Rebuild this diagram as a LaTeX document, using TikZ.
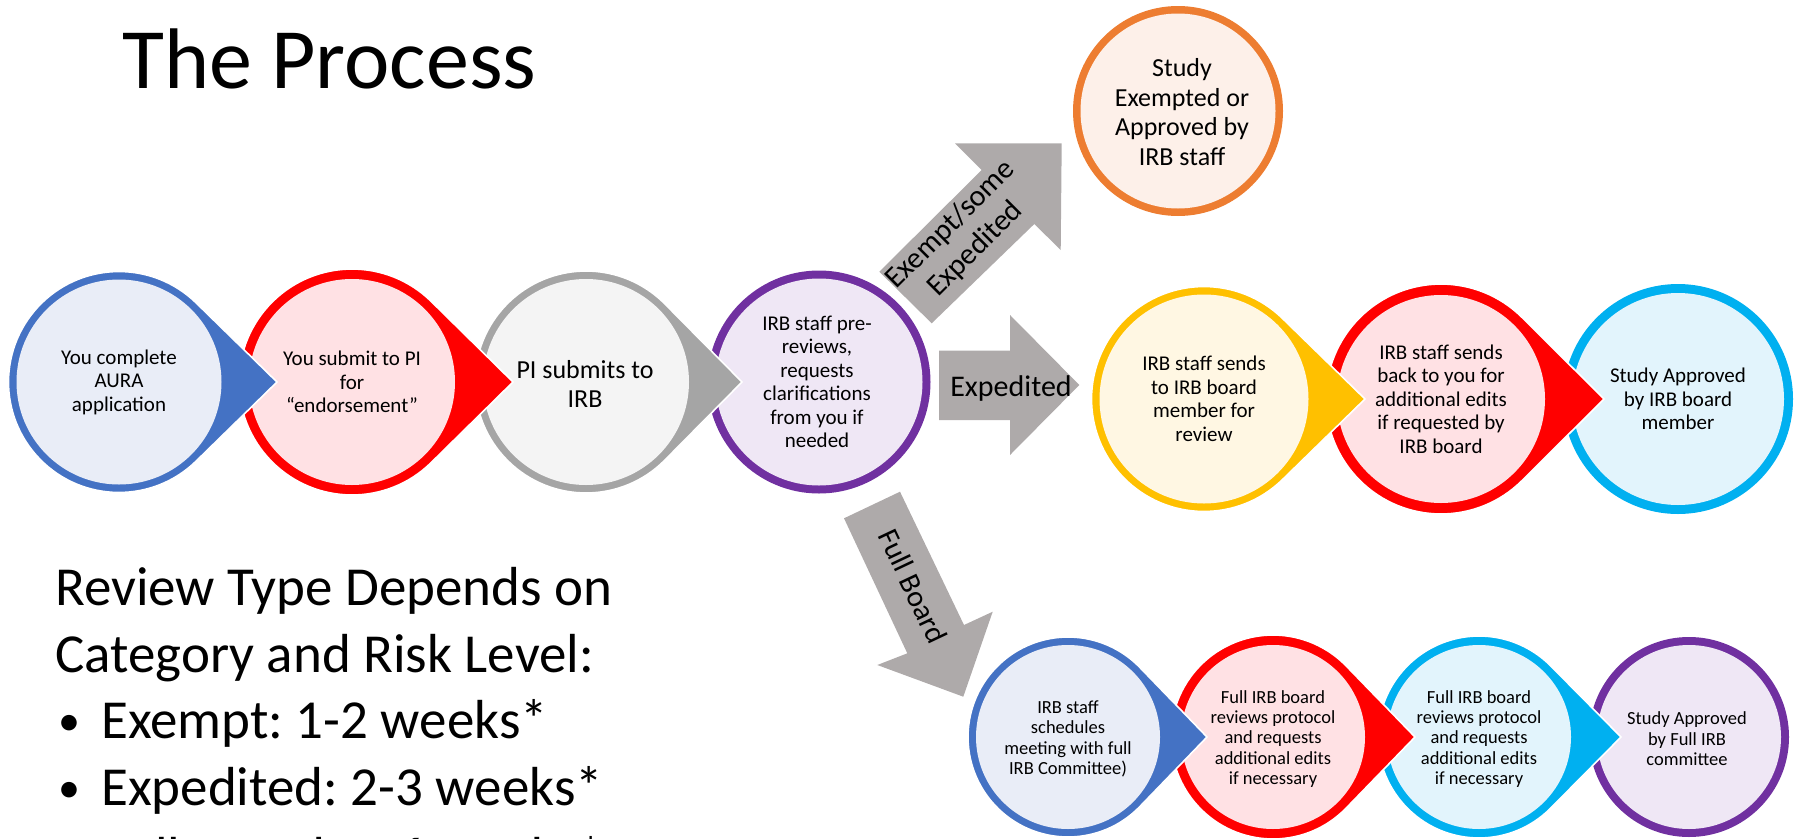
\documentclass[tikz,border=0pt]{standalone}
\usepackage{fontspec}
\setmainfont{Carlito}
\frenchspacing
\definecolor{cBlue}{HTML}{4472C4}
\definecolor{fBlue}{HTML}{E9EDF7}
\definecolor{cRed}{HTML}{FF0000}
\definecolor{fRed}{HTML}{FFE1E4}
\definecolor{cGray}{HTML}{A5A5A5}
\definecolor{fGray}{HTML}{F4F4F4}
\definecolor{cPurple}{HTML}{7030A0}
\definecolor{fPurple}{HTML}{EFE7F5}
\definecolor{cYellow}{HTML}{FFC000}
\definecolor{fYellow}{HTML}{FFF7E3}
\definecolor{cCyan}{HTML}{00B0F0}
\definecolor{fCyan}{HTML}{E2F4FC}
\definecolor{cOrange}{HTML}{ED7D31}
\definecolor{fOrange}{HTML}{FDF0E9}
\definecolor{arrowGray}{HTML}{AEAAAA}
% teardrop: cx, cy, R, w, tipx, stroke, fill
\newcommand\tdrop[7]{%
  \pgfmathsetmacro\tdth{acos(#3/(#5-#1))}%
  \pgfmathsetmacro\tdin{#3-#4}%
  \fill[#6] (#5,#2) -- ([shift={(\tdth:#3)}]#1,#2) arc[start angle=\tdth, end angle=360-\tdth, radius=#3] -- cycle;
  \draw[white, line width=1.6pt, line join=miter] (#5,#2) -- ([shift={(\tdth:#3)}]#1,#2) arc[start angle=\tdth, end angle=360-\tdth, radius=#3] -- cycle;
  \fill[#7] (#1,#2) circle[radius=\tdin];
}
% plain ring: cx, cy, R, w, stroke, fill
\newcommand\ringc[6]{%
  \pgfmathsetmacro\rgin{#3-#4}%
  \fill[#5] (#1,#2) circle[radius=#3];
  \fill[#6] (#1,#2) circle[radius=\rgin];
}
\tikzset{
  txtA/.style={align=center, inner sep=0pt, font=\fontsize{21}{23.5}\selectfont},
  txtB/.style={align=center, inner sep=0pt, font=\fontsize{26}{29.5}\selectfont},
  txtC/.style={align=center, inner sep=0pt, font=\fontsize{18.5}{20.4}\selectfont},
  arrtxt/.style={align=center, inner sep=0pt, font=\fontsize{30}{35}\selectfont},
  bigtxt/.style={anchor=base west, inner sep=0pt, font=\fontsize{55}{67}\selectfont},
  bullettxt/.style={anchor=base west, inner sep=0pt, font=\fontsize{44}{67}\selectfont},
  blockarrow/.style={fill=arrowGray}
}
\begin{document}
\begin{tikzpicture}[x=1pt,y=-1pt]
\useasboundingbox (0,0) rectangle (1796,838);
\clip (0,0) rectangle (1796,838);

% title
\node[anchor=base west, inner sep=0pt, font=\fontsize{86}{100}\selectfont] (title) at (122,88) {The Process};

% ---- row 1 (drawn right to left) ----
\ringc{819}{382}{111.5}{8}{cPurple}{fPurple}
\tdrop{586}{382}{111}{8}{742}{cGray}{fGray}
\tdrop{352}{382}{113}{10}{513}{cRed}{fRed}
\tdrop{119}{382}{110.5}{8}{277}{cBlue}{fBlue}
\node[txtA] (s1) at (119,382) {You complete\\AURA\\application};
\node[txtA] (s2) at (352,382) {You submit to PI\\for\\“endorsement”};
\node[txtB] (s3) at (585,384) {PI submits to\\IRB};
\node[txtA] (s4) at (817,382) {IRB staff pre-\\reviews,\\requests\\clarifications\\from you if\\needed};

% ---- exempt result ----
\ringc{1178}{111}{105}{7.5}{cOrange}{fOrange}
\node[txtB] (ex) at (1182,112) {Study\\Exempted or\\Approved by\\IRB staff};

% ---- row 2 ----
\ringc{1678}{399}{115}{9}{cCyan}{fCyan}
\tdrop{1441}{399}{115}{11}{1604}{cRed}{fRed}
\tdrop{1204}{399}{112.5}{8}{1365}{cYellow}{fYellow}
\node[txtA] (e1) at (1204,399) {IRB staff sends\\to IRB board\\member for\\review};
\node[txtA] (e2) at (1441,399) {IRB staff sends\\back to you for\\additional edits\\if requested by\\IRB board};
\node[txtA] (e3) at (1678,399) {Study Approved\\by IRB board\\member};

% ---- row 3 ----
\ringc{1689}{737}{100}{8}{cPurple}{fPurple}
\tdrop{1479}{737}{101}{9}{1621}{cCyan}{fCyan}
\tdrop{1273}{737}{102}{10}{1415}{cRed}{fRed}
\tdrop{1068}{737}{100}{8}{1207}{cBlue}{fBlue}
\node[txtC] (f1) at (1068,739) {IRB staff\\schedules\\meeting with full\\IRB Committee)};
\node[txtC] (f2) at (1273,739) {Full IRB board\\reviews protocol\\and requests\\additional edits\\if necessary};
\node[txtC] (f3) at (1479,739) {Full IRB board\\reviews protocol\\and requests\\additional edits\\if necessary};
\node[txtC] (f4) at (1687,739) {Study Approved\\by Full IRB\\committee};

% ---- block arrows ----
\fill[blockarrow] (879.3,271.7) -- (981.7,170) -- (955,143.3) -- (1061.7,143.3) -- (1060.7,250) -- (1034.3,224) -- (931.7,323.3) -- cycle;
\node[arrtxt, rotate=45] (a1) at (963,237) {Exempt/some\\Expedited};

\fill[blockarrow] (939,350.7) -- (1010,350.7) -- (1010,315) -- (1079.3,385) -- (1010,455) -- (1010,420) -- (939,420) -- cycle;
\node[arrtxt] (a2) at (1011,388) {Expedited};

\fill[blockarrow] (844,518.3) -- (900,491.7) -- (964,625) -- (992.7,611.7) -- (963.3,696.7) -- (877.3,665) -- (907.3,653.3) -- cycle;
\node[arrtxt, rotate=-64.7] (a3) at (913,586) {Full Board};

% ---- review type text ----
\node[bigtxt] (r1) at (55,605) {Review Type Depends on};
\node[bigtxt] (r2) at (55,672) {Category and Risk Level:};
\node[bullettxt] (b1) at (58,735) {•};
\node[bigtxt] (r3) at (101,738) {Exempt: 1-2 weeks*};
\node[bullettxt] (b2) at (58,802) {•};
\node[bigtxt] (r4) at (101,805) {Expedited: 2-3 weeks*};
\node[bullettxt] (b3) at (58,872) {•};
\node[bigtxt] (r5) at (101,875) {Full Board: 4-6 weeks*};
\end{tikzpicture}
\end{document}
